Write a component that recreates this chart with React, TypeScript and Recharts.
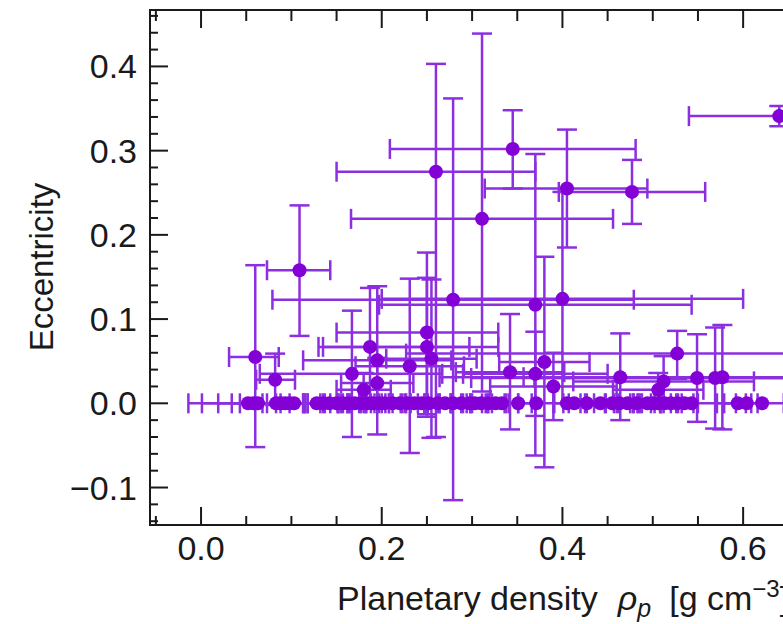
import React from "react";
import { ScatterChart, Scatter, XAxis, YAxis, ErrorBar, ReferenceArea } from "recharts";

// planets with a fitted eccentricity (density in g cm^-3)
const rho = [0.640, 0.345, 0.260, 0.311, 0.405, 0.477, 0.109, 0.279, 0.370, 0.400, 0.060, 0.082, 0.167, 0.187, 0.195, 0.250, 0.250, 0.231, 0.255, 0.342, 0.370, 0.380, 0.390, 0.195, 0.180, 0.464, 0.527, 0.549, 0.569, 0.577, 0.512, 0.506];
const rhoLo = [0.100, 0.136, 0.110, 0.145, 0.091, 0.081, 0.036, 0.200, 0.173, 0.200, 0.029, 0.021, 0.102, 0.052, 0.082, 0.100, 0.120, 0.060, 0.050, 0.060, 0.080, 0.050, 0.070, 0.040, 0.030, 0.200, 0.300, 0.250, 0.200, 0.220, 0.100, 0.050];
const rhoHi = [0.100, 0.136, 0.110, 0.145, 0.089, 0.081, 0.034, 0.200, 0.173, 0.200, 0.026, 0.022, 0.100, 0.110, 0.082, 0.079, 0.079, 0.060, 0.050, 0.060, 0.080, 0.050, 0.070, 0.040, 0.030, 0.200, 0.300, 0.250, 0.200, 0.220, 0.100, 0.050];
const ecc = [0.341, 0.302, 0.275, 0.219, 0.255, 0.251, 0.158, 0.123, 0.117, 0.124, 0.055, 0.028, 0.035, 0.067, 0.051, 0.084, 0.067, 0.044, 0.053, 0.037, 0.035, 0.049, 0.020, 0.024, 0.016, 0.031, 0.059, 0.030, 0.030, 0.031, 0.026, 0.016];
const eccLo = [0.012, 0.047, 0.315, 0.205, 0.070, 0.038, 0.078, 0.238, 0.179, 0.124, 0.107, 0.030, 0.075, 0.070, 0.088, 0.100, 0.080, 0.103, 0.094, 0.068, 0.050, 0.125, 0.040, 0.030, 0.020, 0.051, 0.030, 0.052, 0.060, 0.062, 0.030, 0.020];
const eccHi = [0.012, 0.046, 0.128, 0.220, 0.070, 0.038, 0.077, 0.239, 0.179, 0.127, 0.109, 0.031, 0.075, 0.070, 0.088, 0.095, 0.082, 0.104, 0.094, 0.069, 0.050, 0.125, 0.040, 0.030, 0.020, 0.052, 0.027, 0.052, 0.060, 0.062, 0.030, 0.020];

// planets on circular orbits (e = 0)
const rhoCirc = [0.052, 0.058, 0.063, 0.083, 0.088, 0.093, 0.098, 0.103, 0.128, 0.135, 0.142, 0.150, 0.157, 0.163, 0.170, 0.177, 0.184, 0.190, 0.197, 0.203, 0.212, 0.220, 0.228, 0.236, 0.244, 0.252, 0.262, 0.270, 0.279, 0.288, 0.297, 0.303, 0.310, 0.318, 0.326, 0.333, 0.351, 0.371, 0.405, 0.413, 0.427, 0.442, 0.455, 0.463, 0.472, 0.482, 0.494, 0.500, 0.506, 0.513, 0.520, 0.527, 0.535, 0.543, 0.594, 0.604, 0.621, 0.665, 0.700];
const rhoCircErr = [0.066, 0.057, 0.020, 0.015, 0.069, 0.020, 0.064, 0.015, 0.015, 0.020, 0.010, 0.015, 0.020, 0.012, 0.018, 0.015, 0.020, 0.010, 0.015, 0.020, 0.015, 0.012, 0.020, 0.015, 0.018, 0.012, 0.015, 0.020, 0.015, 0.012, 0.020, 0.015, 0.012, 0.020, 0.015, 0.018, 0.015, 0.020, 0.015, 0.012, 0.020, 0.015, 0.020, 0.015, 0.012, 0.020, 0.015, 0.012, 0.020, 0.015, 0.012, 0.018, 0.015, 0.060, 0.015, 0.012, 0.050, 0.020, 0.030];

const xTicks = [-0.05, 0, 0.05, 0.1, 0.15, 0.2, 0.25, 0.3, 0.35, 0.4, 0.45, 0.5, 0.55, 0.6, 0.65, 0.7, 0.75, 0.8, 0.85];
const yTicks = [-0.14, -0.12, -0.1, -0.08, -0.06, -0.04, -0.02, 0, 0.02, 0.04, 0.06, 0.08, 0.1, 0.12, 0.14, 0.16, 0.18, 0.2, 0.22, 0.24, 0.26, 0.28, 0.3, 0.32, 0.34, 0.36, 0.38, 0.4, 0.42, 0.44, 0.46];

const X_DOMAIN: [number, number] = [-0.0565, 0.85];
const Y_DOMAIN: [number, number] = [-0.1445, 0.467];

const W = 1000;
const H = 624;
const PLOT_W = 819;
const PLOT_H = 515;
const FONT = "'Liberation Sans', Arial, Helvetica, sans-serif";
const DOT = "#8300d6";
const BAR = "#8c2fe0";
const INK = "#1a1a1a";

const eccData = rho.map((r, i) => ({
  rho: r,
  ecc: ecc[i],
  ex: [rhoLo[i], rhoHi[i]],
  ey: [eccLo[i], eccHi[i]],
}));

const circData = rhoCirc.map((r, i) => ({ rho: r, ecc: 0, ex: rhoCircErr[i] }));

const isMajor = (v: number, step: number) => Math.abs(v / step - Math.round(v / step)) < 1e-6;
const fmt = (v: number) => v.toFixed(1).replace("-", "\u2212");

const XTick = (props: any) => {
  const { x, y, payload } = props;
  const major = isMajor(payload.value, 0.2);
  const top = y - PLOT_H;
  return (
    <g>
      <line x1={x} x2={x} y1={y} y2={y - (major ? 18 : 9)} stroke={INK} strokeWidth={2} />
      <line x1={x} x2={x} y1={top} y2={top + (major ? 18 : 11)} stroke={INK} strokeWidth={2} />
      {major && (
        <text x={x} y={y + 35} textAnchor="middle" fontSize={34} fontFamily={FONT} fill={INK}>
          {fmt(payload.value)}
        </text>
      )}
    </g>
  );
};

const YTick = (props: any) => {
  const { x, y, payload } = props;
  const major = isMajor(payload.value, 0.1);
  const right = x + PLOT_W;
  return (
    <g>
      <line x1={x} x2={x + (major ? 18 : 8)} y1={y} y2={y} stroke={INK} strokeWidth={2} />
      <line x1={right} x2={right - (major ? 18 : 8)} y1={y} y2={y} stroke={INK} strokeWidth={2} />
      {major && (
        <text x={x - 13} y={y + 12} textAnchor="end" fontSize={34} fontFamily={FONT} fill={INK}>
          {fmt(payload.value)}
        </text>
      )}
    </g>
  );
};

const dot = (p: any) => <circle cx={p.cx} cy={p.cy} r={7} fill={DOT} />;

export default function App() {
  return (
    <div style={{ position: "fixed", left: 0, top: 0, width: 783, height: 624, overflow: "hidden", background: "#fff" }}>
      <ScatterChart width={W} height={H} margin={{ top: 10, right: W - 150 - PLOT_W, bottom: 0, left: 0 }}>
        <XAxis
          type="number"
          dataKey="rho"
          domain={X_DOMAIN}
          allowDataOverflow
          ticks={xTicks}
          interval={0}
          tick={<XTick />}
          tickLine={false}
          tickSize={0}
          tickMargin={0}
          axisLine={false}
          height={99}
          label={() => (
            <text x={337} y={610} fontSize={34} fontFamily={FONT} fill={INK}>
              Planetary density
              <tspan fontStyle="italic" dx={20}>ρ</tspan>
              <tspan fontStyle="italic" fontSize={25} dy={7}>p</tspan>
              <tspan dy={-7} dx={18}>[g cm</tspan>
              <tspan fontSize={24} dy={-13}>−3</tspan>
              <tspan dy={13}>]</tspan>
            </text>
          )}
        />
        <YAxis
          type="number"
          dataKey="ecc"
          domain={Y_DOMAIN}
          allowDataOverflow
          ticks={yTicks}
          interval={0}
          tick={<YTick />}
          tickLine={false}
          tickSize={0}
          tickMargin={0}
          axisLine={false}
          width={150}
          label={() => (
            <text
              x={53}
              y={267}
              transform="rotate(-90 53 267)"
              textAnchor="middle"
              fontSize={33}
              fontFamily={FONT}
              fill={INK}
            >
              Eccentricity
            </text>
          )}
        />
        <ReferenceArea
          x1={X_DOMAIN[0]}
          x2={X_DOMAIN[1]}
          y1={Y_DOMAIN[0]}
          y2={Y_DOMAIN[1]}
          fill="none"
          fillOpacity={0}
          stroke={INK}
          strokeWidth={2}
          ifOverflow="visible"
        />
        <Scatter data={circData} shape={dot} isAnimationActive={false}>
          <ErrorBar dataKey="ex" direction="x" width={10} stroke={BAR} strokeWidth={2.5} isAnimationActive={false} />
        </Scatter>
        <Scatter data={eccData} shape={dot} isAnimationActive={false}>
          <ErrorBar dataKey="ex" direction="x" width={10} stroke={BAR} strokeWidth={2.5} isAnimationActive={false} />
          <ErrorBar dataKey="ey" direction="y" width={10} stroke={BAR} strokeWidth={2.5} isAnimationActive={false} />
        </Scatter>
      </ScatterChart>
    </div>
  );
}
